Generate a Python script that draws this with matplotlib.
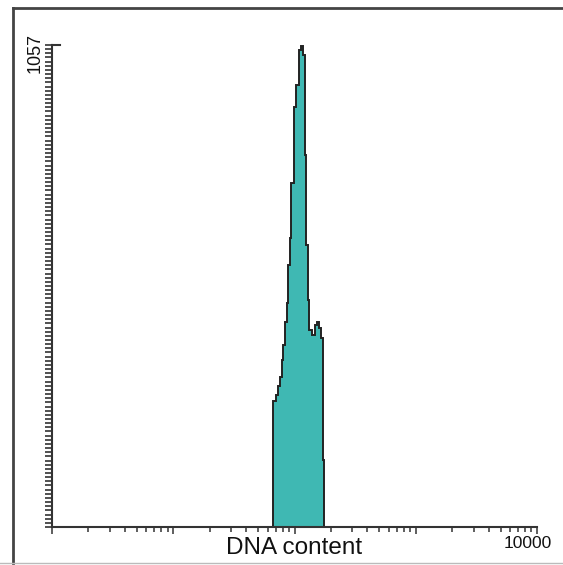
import numpy as np
import matplotlib
matplotlib.use("Agg")
import matplotlib.pyplot as plt
from matplotlib.lines import Line2D
from matplotlib.ticker import FixedLocator, LogLocator, NullFormatter

# ---- data ----
# bin edges in DNA-content units (log axis) and counts per bin
bin_edges = [66.1, 70.4, 73.1, 75.9, 78.9, 80.8, 83.5, 86.2, 88.9, 91.8, 94.1,
             98.5, 102.9, 109.5, 112.1, 117.5, 121.4, 125.1, 128.7, 132.9,
             139.4, 147.6, 153.3, 159.3, 165.4, 170.8, 176.2]
counts = [276, 289, 309, 329, 366, 399, 450, 491, 575, 634, 754,
          921, 969, 1046, 1054, 1035, 816, 618, 498, 432,
          421, 443, 450, 436, 414, 147]
y_max = 1057
x_min, x_max = 1, 10000
x_label = "DNA content"
y_top_label = "1057"
x_right_label = "10000"

W, H = 563, 565
fig = plt.figure(figsize=(W / 100, H / 100), dpi=100)
plt.rcParams['font.family'] = ['Liberation Sans', 'DejaVu Sans']

ax_l, ax_r, ax_t, ax_b = 52, 537, 45, 527
ax = fig.add_axes([ax_l / W, (H - ax_b) / H, (ax_r - ax_l) / W, (ax_b - ax_t) / H])

teal = "#3FB8B3"
ax.stairs(counts, bin_edges, baseline=0, fill=True, facecolor=teal, edgecolor="none")
ax.stairs(counts, bin_edges, baseline=0, fill=False, edgecolor="#222222", linewidth=1.4)

ax.set_xscale("log")
ax.set_xlim(x_min, x_max)
ax.set_ylim(0, y_max)

for s in ["top", "right"]:
    ax.spines[s].set_visible(False)
for s in ["left", "bottom"]:
    ax.spines[s].set_color("#333333")
    ax.spines[s].set_linewidth(1.5)

# x ticks
ax.xaxis.set_major_locator(LogLocator(base=10, numticks=10))
ax.xaxis.set_minor_locator(LogLocator(base=10, subs=np.arange(2, 10), numticks=20))
ax.xaxis.set_major_formatter(NullFormatter())
ax.xaxis.set_minor_formatter(NullFormatter())
ax.tick_params(axis="x", which="major", direction="out", length=5, width=1.1, color="#333333")
ax.tick_params(axis="x", which="minor", direction="out", length=3.6, width=1.1, color="#333333")

# y ticks (dense)
ax.yaxis.set_major_locator(FixedLocator(np.linspace(0, y_max, 117)))
ax.yaxis.set_major_formatter(NullFormatter())
ax.tick_params(axis="y", which="major", direction="out", length=5, width=1.2, color="#333333")

# top cap on y axis
ax.add_line(Line2D([0, 8 / (ax_r - ax_l)], [1, 1], transform=ax.transAxes,
                   color="#333333", linewidth=1.5, clip_on=False))

# labels
ax.annotate(y_top_label, xy=(0, 1), xycoords="axes fraction",
            xytext=(-17, -8), textcoords="offset pixels",
            rotation=90, ha="center", va="center", fontsize=13, color="#111111")
ax.annotate(x_right_label, xy=(1, 0), xycoords="axes fraction",
            xytext=(-9, -16), textcoords="offset pixels",
            ha="center", va="center", fontsize=12.5, color="#111111")
fig.text(294 / W, 1 - 548 / H, x_label, ha="center", va="center", fontsize=17.5, color="#111111")

# outer frame lines
fig.add_artist(Line2D([13 / W, 13 / W], [1 - 7.5 / H, 1 - 562.5 / H], transform=fig.transFigure,
                      color="#444444", linewidth=2.0))
fig.add_artist(Line2D([13 / W, 1.0], [1 - 7.5 / H, 1 - 7.5 / H], transform=fig.transFigure,
                      color="#444444", linewidth=2.0))
fig.add_artist(Line2D([0, 1.0], [1 - 562.5 / H, 1 - 562.5 / H], transform=fig.transFigure,
                      color="#bbbbbb", linewidth=1.0))

fig.savefig("out.png", dpi=100)
